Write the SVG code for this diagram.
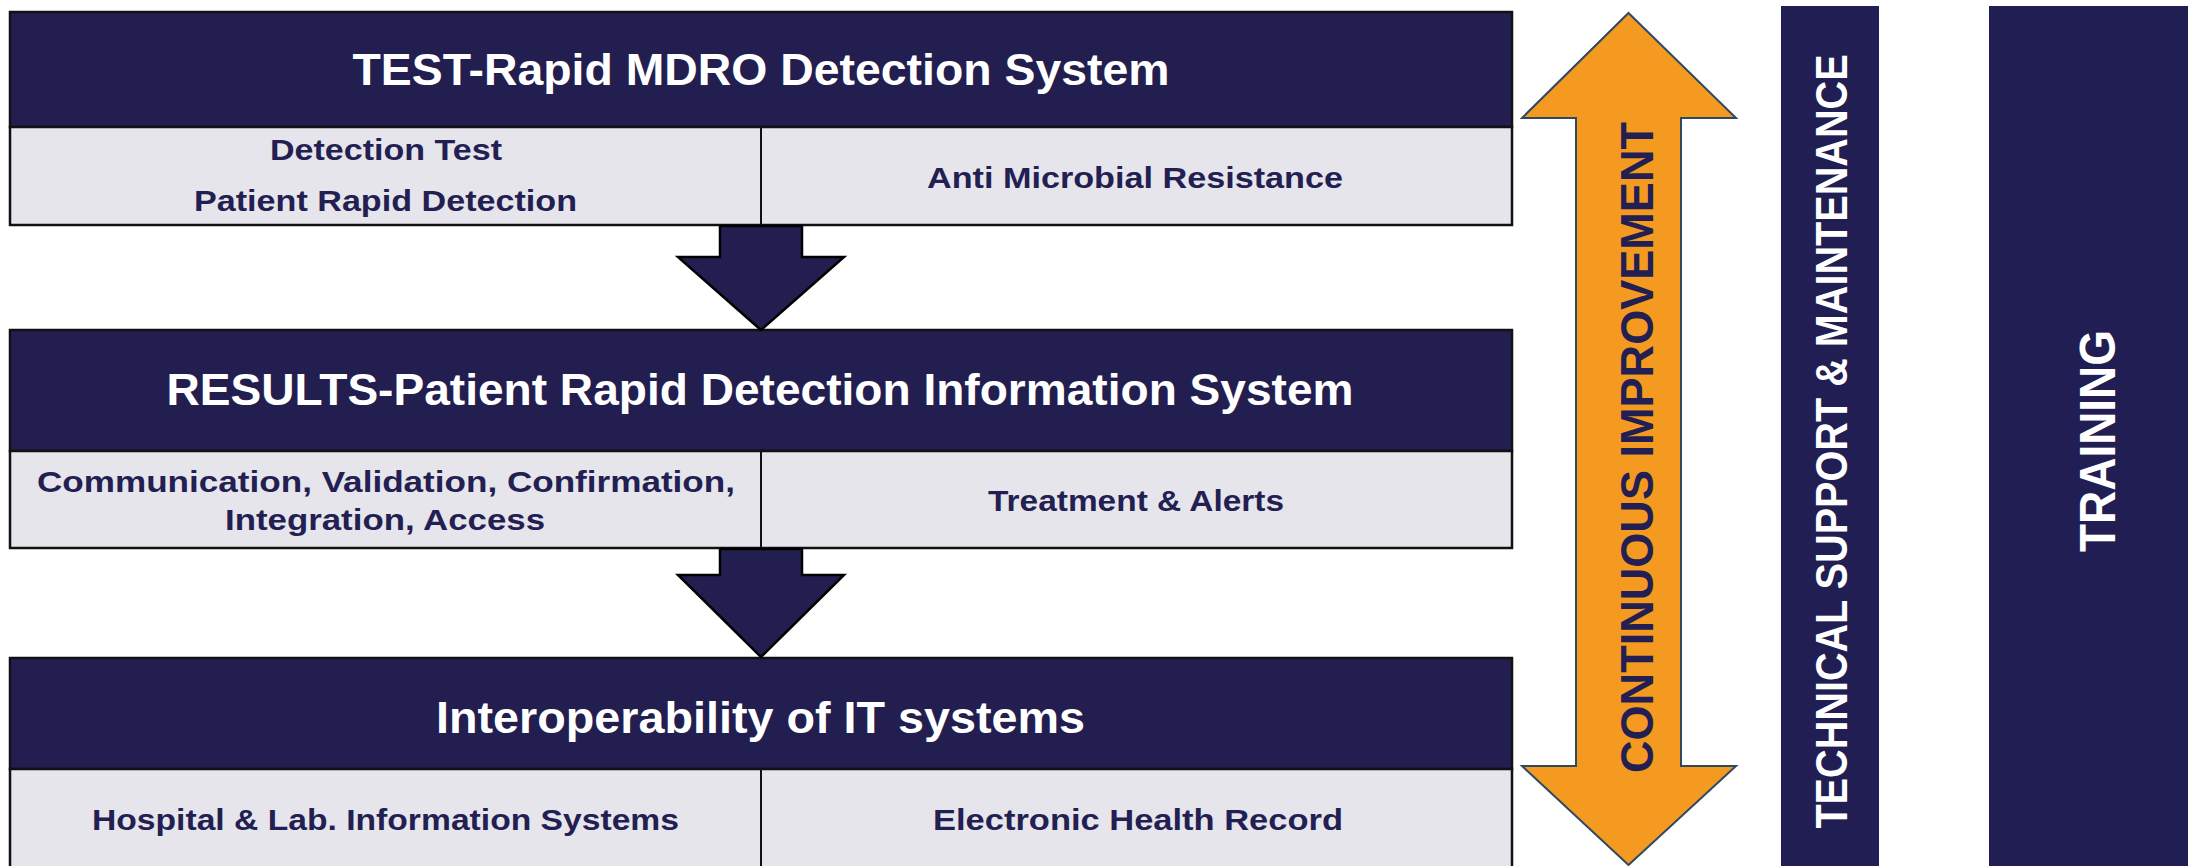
<svg xmlns="http://www.w3.org/2000/svg" width="2188" height="866" viewBox="0 0 2188 866">
<style>
.hdr{fill:#231E50;stroke:#111;stroke-width:2.5}
.sub{fill:#E6E5EC;stroke:#111;stroke-width:2.5}
.div{stroke:#111;stroke-width:2}
.ht{font-family:"Liberation Sans",Arial,sans-serif;font-weight:bold;font-size:44px;fill:#FFFFFF;text-anchor:middle}
.st{font-family:"Liberation Sans",Arial,sans-serif;font-weight:bold;font-size:30px;fill:#231F52;text-anchor:middle}
.vt{font-family:"Liberation Sans",Arial,sans-serif;font-weight:bold;text-anchor:middle}
.bar{fill:#201E53}
.darr{fill:#231E50;stroke:#000;stroke-width:2.5;stroke-linejoin:miter}
</style>
<rect width="2188" height="866" fill="#FFFFFF"/>
<g id="block-test">
<rect class="hdr" x="10" y="12" width="1502" height="115"/>
<rect class="sub" x="10" y="127" width="1502" height="98"/>
<line class="div" x1="761" y1="127" x2="761" y2="225"/>
<text class="ht" x="761" y="85" textLength="817" lengthAdjust="spacingAndGlyphs">TEST-Rapid MDRO Detection System</text>
<text class="st" x="386" y="160" textLength="232" lengthAdjust="spacingAndGlyphs">Detection Test</text>
<text class="st" x="385.5" y="211" textLength="383" lengthAdjust="spacingAndGlyphs">Patient Rapid Detection</text>
<text class="st" x="1135" y="188" textLength="416" lengthAdjust="spacingAndGlyphs">Anti Microbial Resistance</text>
</g>
<g id="block-results">
<rect class="hdr" x="10" y="330" width="1502" height="121"/>
<rect class="sub" x="10" y="451" width="1502" height="97"/>
<line class="div" x1="761" y1="451" x2="761" y2="548"/>
<text class="ht" x="760" y="405" textLength="1187" lengthAdjust="spacingAndGlyphs">RESULTS-Patient Rapid Detection Information System</text>
<text class="st" x="386" y="492" textLength="698" lengthAdjust="spacingAndGlyphs">Communication, Validation, Confirmation,</text>
<text class="st" x="385" y="530" textLength="320" lengthAdjust="spacingAndGlyphs">Integration, Access</text>
<text class="st" x="1136" y="511" textLength="296" lengthAdjust="spacingAndGlyphs">Treatment &amp; Alerts</text>
</g>
<g id="block-interop">
<rect class="hdr" x="10" y="658" width="1502" height="111"/>
<rect class="sub" x="10" y="769" width="1502" height="100"/>
<line class="div" x1="761" y1="769" x2="761" y2="866"/>
<text class="ht" x="760.5" y="733" textLength="649" lengthAdjust="spacingAndGlyphs">Interoperability of IT systems</text>
<text class="st" x="385.5" y="830" textLength="587" lengthAdjust="spacingAndGlyphs">Hospital &amp; Lab. Information Systems</text>
<text class="st" x="1138" y="830" textLength="410" lengthAdjust="spacingAndGlyphs">Electronic Health Record</text>
</g>
<g id="connectors">
<polygon class="darr" points="720,226 802,226 802,257 844,257 761,330 678,257 720,257"/>
<polygon class="darr" points="720,549 802,549 802,575 844,575 761,657 678,575 720,575"/>
</g>
<g id="continuous-improvement">
<polygon points="1628.5,13 1736,118 1681,118 1681,766 1736,766 1628.5,865 1522,766 1576,766 1576,118 1522,118" fill="#F49A21" stroke="#2E4A62" stroke-width="2"/>
<text class="vt" transform="translate(1653,447.5) rotate(-90)" font-size="46" fill="#231F52" textLength="651" lengthAdjust="spacingAndGlyphs">CONTINUOUS IMPROVEMENT</text>
</g>
<g id="technical-support">
<rect class="bar" x="1781" y="6" width="98" height="860"/>
<text class="vt" transform="translate(1847,441.5) rotate(-90) scale(0.901,1)" font-size="44" fill="#FFFFFF">TECHNICAL SUPPORT &amp; MAINTENANCE</text>
</g>
<g id="training">
<rect class="bar" x="1989" y="6" width="199" height="860"/>
<text class="vt" transform="translate(2115,441) rotate(-90)" font-size="50" fill="#FFFFFF" textLength="222" lengthAdjust="spacingAndGlyphs">TRAINING</text>
</g>
</svg>
